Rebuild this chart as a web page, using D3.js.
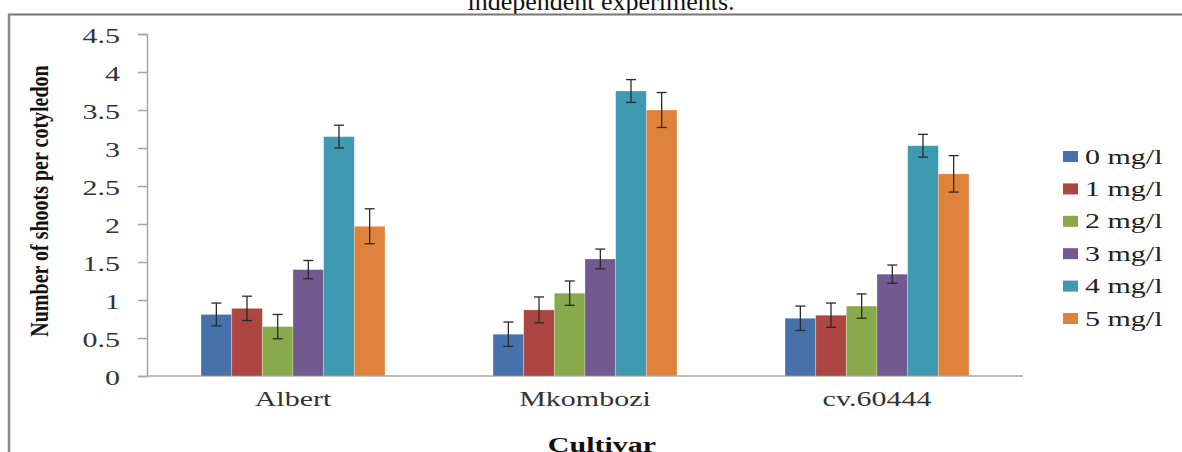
<!DOCTYPE html>
<html>
<head>
<meta charset="utf-8">
<script src="https://cdn.jsdelivr.net/npm/d3@7"></script>
<style>
  html, body { margin: 0; padding: 0; background: #fff; }
  svg { display: block; }
  text { font-family: "Liberation Serif", "Times New Roman", serif; }
</style>
</head>
<body>
<svg id="chart" width="1182" height="452"></svg>
<script>
// Cultivars on the category axis
const cultivars = ["Albert", "Mkombozi", "cv.60444"];
// Hormone concentrations (one series each)
const doses = ["0 mg/l", "1 mg/l", "2 mg/l", "3 mg/l", "4 mg/l", "5 mg/l"];
// Mean number of shoots per cotyledon, per cultivar, in dose order
const meanAlbert   = [0.81, 0.89, 0.65, 1.40, 3.15, 1.97];
const meanMkombozi = [0.55, 0.87, 1.09, 1.54, 3.75, 3.50];
const meanCv60444  = [0.76, 0.80, 0.92, 1.34, 3.03, 2.66];
// Standard errors
const errAlbert   = [0.15, 0.16, 0.16, 0.12, 0.15, 0.23];
const errMkombozi = [0.16, 0.17, 0.16, 0.13, 0.15, 0.23];
const errCv60444  = [0.16, 0.16, 0.16, 0.12, 0.15, 0.24];
// Value-axis tick labels
const yTicks = [0, 0.5, 1, 1.5, 2, 2.5, 3, 3.5, 4, 4.5];
const seriesColors = ["#4671aa", "#ad4541", "#89a94d", "#72598f", "#3f99b0", "#de823c"];

const means = [meanAlbert, meanMkombozi, meanCv60444];
const errs = [errAlbert, errMkombozi, errCv60444];
const rows = cultivars.map((c, i) => ({
  cultivar: c,
  values: doses.map((d, j) => ({ dose: d, mean: means[i][j], err: errs[i][j] }))
}));

const svg = d3.select("#chart");
const SX = 1.5; // horizontal stretch applied to labels

// Page caption line and frame
svg.append("text")
  .attr("x", 601).attr("y", 10)
  .attr("text-anchor", "middle")
  .attr("font-size", 26)
  .attr("fill", "#111")
  .text("independent experiments.");
svg.append("line").attr("x1", 8).attr("x2", 1182).attr("y1", 14.5).attr("y2", 14.5)
  .attr("stroke", "#777").attr("stroke-width", 2);
svg.append("line").attr("x1", 9).attr("x2", 9).attr("y1", 14).attr("y2", 452)
  .attr("stroke", "#888").attr("stroke-width", 2.5);

const plotLeft = 147, plotRight = 1023, plotTop = 34, plotBottom = 376;

const x0 = d3.scaleBand().domain(cultivars).range([plotLeft, plotRight])
  .paddingInner(0.37).paddingOuter(0.185);
const x1 = d3.scaleBand().domain(doses).range([0, x0.bandwidth()]);
const y = d3.scaleLinear().domain([0, 4.5]).range([plotBottom, plotTop]);
const color = d3.scaleOrdinal().domain(doses).range(seriesColors);

// Value axis
const yAxis = svg.append("g").attr("transform", `translate(${plotLeft},0)`)
  .call(d3.axisLeft(y).tickValues(yTicks).tickSize(9).tickFormat(d3.format("")));
yAxis.select(".domain").attr("stroke", "#a6a6a6").attr("stroke-width", 1.5);
yAxis.selectAll(".tick line").attr("stroke", "#a6a6a6").attr("stroke-width", 1.5);
yAxis.selectAll(".tick text").remove();
yAxis.selectAll(".tick").append("text")
  .attr("transform", `translate(-27,8.5) scale(${SX},1)`)
  .attr("text-anchor", "end")
  .attr("font-size", 20)
  .attr("fill", "#333")
  .text(d => d3.format("")(d));

// Category axis
svg.append("line").attr("x1", plotLeft).attr("x2", plotRight).attr("y1", plotBottom).attr("y2", plotBottom)
  .attr("stroke", "#a6a6a6").attr("stroke-width", 1.5);
svg.append("g").selectAll("text").data(cultivars).join("text")
  .attr("transform", d => `translate(${x0(d) + x0.bandwidth() / 2},406) scale(${SX},1)`)
  .attr("text-anchor", "middle")
  .attr("font-size", 20)
  .attr("fill", "#333")
  .text(d => d);

// Bars
const groups = svg.append("g").selectAll("g").data(rows).join("g")
  .attr("transform", d => `translate(${x0(d.cultivar)},0)`);
groups.selectAll("rect").data(d => d.values).join("rect")
  .attr("x", d => x1(d.dose))
  .attr("y", d => y(d.mean))
  .attr("width", x1.bandwidth())
  .attr("height", d => plotBottom - y(d.mean))
  .attr("fill", d => color(d.dose))
  .attr("stroke", "rgba(255,255,255,0.35)")
  .attr("stroke-width", 0.8);

// Error bars
const eb = groups.selectAll("g.err").data(d => d.values).join("g").attr("class", "err")
  .attr("stroke", "#2a2a2a").attr("stroke-width", 1.3);
const cx = d => x1(d.dose) + x1.bandwidth() / 2;
eb.append("line").attr("x1", cx).attr("x2", cx)
  .attr("y1", d => y(d.mean + d.err)).attr("y2", d => y(d.mean - d.err));
eb.append("line").attr("x1", d => cx(d) - 5).attr("x2", d => cx(d) + 5)
  .attr("y1", d => y(d.mean + d.err)).attr("y2", d => y(d.mean + d.err));
eb.append("line").attr("x1", d => cx(d) - 5).attr("x2", d => cx(d) + 5)
  .attr("y1", d => y(d.mean - d.err)).attr("y2", d => y(d.mean - d.err));

// Axis titles
svg.append("text")
  .attr("transform", `translate(48,201) scale(1.3,1) rotate(-90)`)
  .attr("text-anchor", "middle")
  .attr("font-size", 20)
  .attr("font-weight", "bold")
  .attr("fill", "#111")
  .text("Number of shoots per cotyledon");
svg.append("text")
  .attr("transform", `translate(602,452) scale(${SX},1)`)
  .attr("text-anchor", "middle")
  .attr("font-size", 20)
  .attr("font-weight", "bold")
  .attr("fill", "#111")
  .text("Cultivar");

// Legend
const legend = svg.append("g").selectAll("g").data(doses).join("g")
  .attr("transform", (d, i) => `translate(1063,${156.5 + i * 32.4})`);
legend.append("rect")
  .attr("x", 0).attr("y", -5.5).attr("width", 15).attr("height", 11)
  .attr("fill", d => color(d));
legend.append("text")
  .attr("transform", `translate(22,7) scale(${SX},1)`)
  .attr("font-size", 20)
  .attr("fill", "#222")
  .text(d => d);
</script>
</body>
</html>
